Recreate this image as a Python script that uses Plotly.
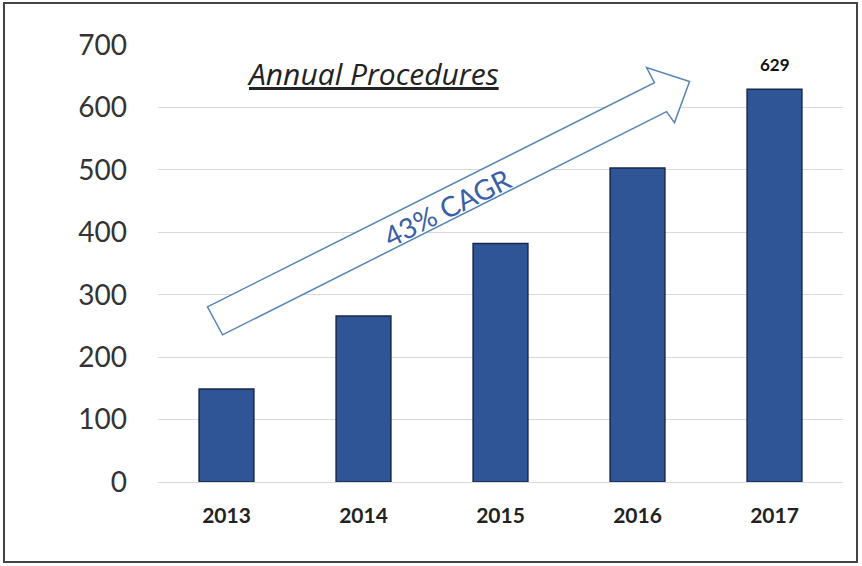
import plotly.graph_objects as go

years = ["2013", "2014", "2015", "2016", "2017"]
procedures = [149, 266, 382, 503, 629]
y_ticks = [0, 100, 200, 300, 400, 500, 600, 700]

# block arrow outline (category index, value units)
arrow_x = [-0.139, 3.124, 3.066, 3.380, 3.270, 3.212, -0.029]
arrow_y = [280.6, 639.8, 663.9, 641.4, 575.7, 593.3, 235.7]

L, R, T, B = 158, 843, 45, 482   # plot area in page pixels
W, H = 862, 566


def px(xp):
    return (xp - L) / (R - L)


def py(yp):
    return (B - yp) / (B - T)


fig = go.Figure()
fig.add_trace(go.Bar(
    x=list(range(len(years))), y=procedures, width=0.4,
    marker=dict(color="#2f5597", line=dict(color="#17294a", width=1.5)),
    hoverinfo="skip",
))

path = "M " + " L ".join(f"{x},{y}" for x, y in zip(arrow_x, arrow_y)) + " Z"
fig.add_shape(type="path", path=path, xref="x", yref="y",
              line=dict(color="#5585b5", width=1.5), fillcolor="rgba(255,255,255,0.95)", layer="above")

fig.add_annotation(x=1.613, y=441, xref="x", yref="y", text="43% CAGR", showarrow=False,
                   textangle=-26.6, font=dict(family="Lato", size=28, color="#3a5ea8"))
fig.add_annotation(x=4, y=procedures[-1], xref="x", yref="y", text="<b>629</b>", showarrow=False,
                   yanchor="middle", yshift=25, font=dict(family="Lato", size=17, color="#111"))
fig.add_annotation(x=px(373), y=py(73), xref="paper", yref="paper", xanchor="center", yanchor="middle",
                   text="<i><u>Annual Procedures</u></i>", showarrow=False,
                   font=dict(family="Open Sans", size=30, color="#222"))

fig.add_shape(type="rect", xref="paper", yref="paper",
              x0=px(4), x1=px(857), y0=py(562), y1=py(3),
              line=dict(color="#444", width=2), fillcolor="rgba(0,0,0,0)", layer="below")

fig.update_layout(
    width=W, height=H,
    margin=dict(l=L, r=W - R, t=T, b=H - B, pad=0),
    paper_bgcolor="white", plot_bgcolor="white",
    showlegend=False, bargap=0.6,
    xaxis=dict(tickmode="array", tickvals=list(range(len(years))), ticktext=[f"<b>{y}</b>" for y in years],
               range=[-0.5, 4.5], showgrid=False, zeroline=False, showline=False,
               tickfont=dict(family="Lato", size=21, color="#222"), ticklabelstandoff=19),
    yaxis=dict(range=[0, 700], tickvals=y_ticks, showgrid=True, gridcolor="#d9d9d9", gridwidth=1,
               zeroline=True, zerolinecolor="#d9d9d9", zerolinewidth=1, showline=False,
               tickfont=dict(family="Lato", size=28, color="#333"), ticklabelstandoff=30),
)

fig.write_html("out.html", config={"displayModeBar": False},
               post_script="document.body.style.margin='0';")
